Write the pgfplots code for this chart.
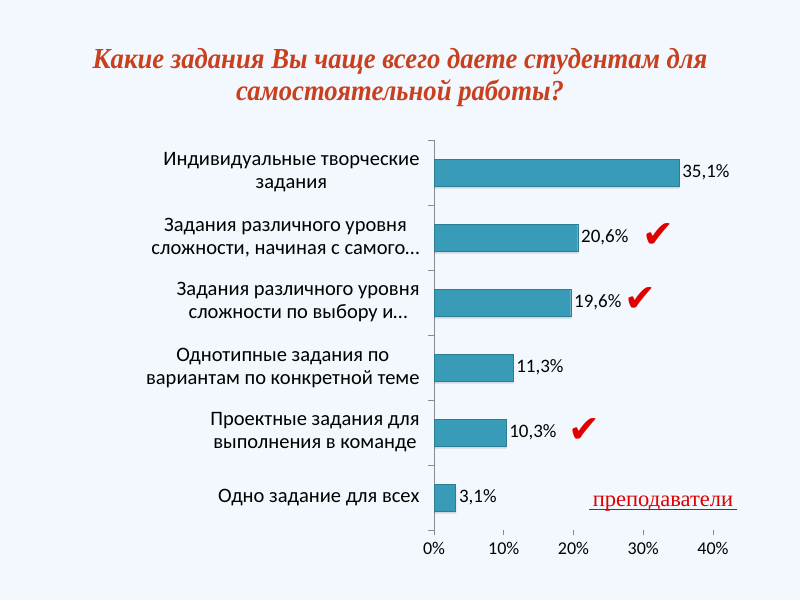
\documentclass[border=0pt]{standalone}
\usepackage{fontspec}
\setmainfont{Carlito}
\newfontfamily\titlefont[FakeStretch=0.92]{Liberation Serif}
\newfontfamily\serifont{Liberation Serif}
\newfontfamily\checkfont{DejaVu Sans}
\usepackage{pgfplots}
\pgfplotsset{compat=1.18}
\definecolor{bgc}{HTML}{F2F8FE}
\definecolor{titlec}{HTML}{C8401E}
\definecolor{barmid}{HTML}{389CB8}
\definecolor{barlight}{HTML}{4DB3D1}
\definecolor{axisc}{HTML}{8A8A8A}
\definecolor{redc}{HTML}{E00000}
\begin{document}
\begin{tikzpicture}
\fill[bgc] (0pt,0pt) rectangle (800pt,600pt);
\node[font=\titlefont\bfseries\itshape\fontsize{29}{33}\selectfont, text=titlec, anchor=base] at (400pt,531pt) {Какие задания Вы чаще всего даете студентам для};
\node[font=\titlefont\bfseries\itshape\fontsize{29}{33}\selectfont, text=titlec, anchor=base] at (400pt,499pt) {самостоятельной работы?};
\begin{axis}[
  at={(434pt,70pt)}, anchor=south west,
  scale only axis, width=279pt, height=390pt,
  xmin=0, xmax=40, ymin=-0.5, ymax=5.5, y dir=reverse,
  xbar, bar width=27pt,
  /pgf/number format/assume math mode=true,
  axis lines*=left,
  x axis line style={draw=none},
  y axis line style={draw=axisc, line width=0.8pt},
  tick align=outside,
  major tick length=5pt, minor tick length=6pt,
  xtick={0,10,20,30,40},
  xticklabel={\pgfmathprintnumber{\tick}\%},
  every major x tick/.append style={draw=axisc, line width=0.8pt},
  x tick label style={font=\fontsize{18}{20}\selectfont, yshift=-4pt},
  ytick={0,1,2,3,4,5},
  every major y tick/.append style={draw=none},
  minor ytick={-0.5,0.5,1.5,2.5,3.5,4.5,5.5},
  every minor y tick/.append style={draw=axisc, line width=0.8pt},
  yticklabels={{Индивидуальные творческие\\задания},
               {Задания различного уровня\\сложности, начиная с самого…},
               {Задания различного уровня\\сложности по выбору и…},
               {Однотипные задания по\\вариантам по конкретной теме},
               {Проектные задания для\\выполнения в команде},
               {Одно задание для всех}},
  y tick label style={font=\fontsize{20.5}{23}\selectfont, align=center, xshift=-6pt},
  clip=false,
]
% shadow
\addplot[xbar, bar shift=-2.5pt, draw=none, fill=black, fill opacity=0.13]
  coordinates {(35.2,0) (20.7,1) (19.7,2) (11.4,3) (10.4,4) (3.2,5)};
% bars
\addplot[xbar, bar shift=0pt, draw=barmid!80!black, line width=0.3pt, fill=barmid,
  nodes near coords={\pgfmathprintnumber[fixed,fixed zerofill,precision=1,use comma]{\pgfplotspointmeta}\%},
  every node near coord/.append style={font=\fontsize{19}{21}\selectfont, text=black}]
  coordinates {(35.1,0) (20.6,1) (19.6,2) (11.3,3) (10.3,4) (3.1,5)};
\node[font=\checkfont\fontsize{38}{40}\selectfont, text=redc] at (axis cs:32.2,0.97) {✔};
\node[font=\checkfont\fontsize{38}{40}\selectfont, text=redc] at (axis cs:29.6,1.95) {✔};
\node[font=\checkfont\fontsize{38}{40}\selectfont, text=redc] at (axis cs:21.5,3.97) {✔};
\end{axis}
\node[font=\serifont\fontsize{22.5}{25}\selectfont, text=redc, anchor=base] (p) at (663pt,94pt) {преподаватели};
\draw[redc, line width=1pt] ([yshift=-3pt]p.base west) -- ([yshift=-3pt]p.base east);
\end{tikzpicture}
\end{document}
